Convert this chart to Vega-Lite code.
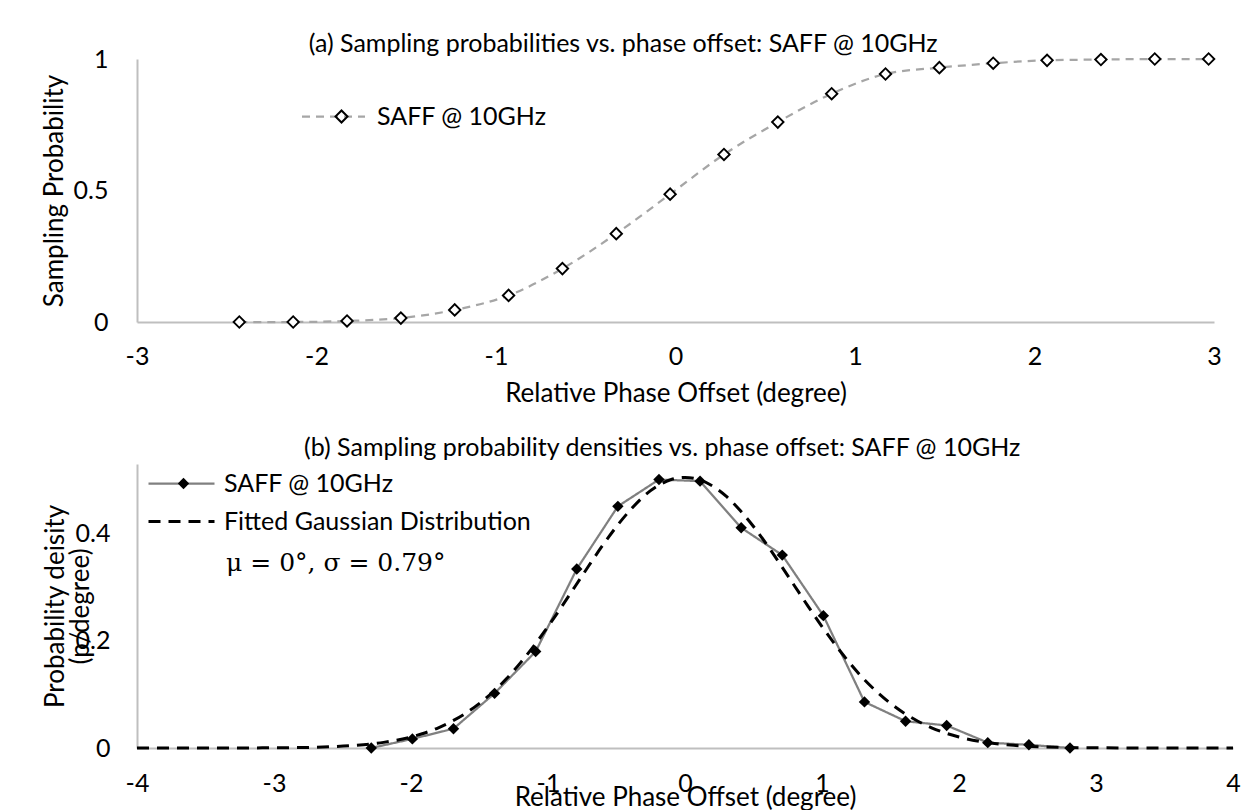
{
  "$schema": "https://vega.github.io/schema/vega-lite/v6.json",
  "background": "white",
  "padding": {"left": 41, "top": 32, "right": 5, "bottom": 0},
  "spacing": 30,
  "resolve": {
    "scale": {"color": "independent", "strokeDash": "independent", "strokeWidth": "independent", "shape": "independent"},
    "legend": {"color": "independent", "strokeDash": "independent", "strokeWidth": "independent", "shape": "independent"}
  },
  "datasets": {
    "prob": [
      {"offset": -2.43, "probability": 0, "series": "SAFF @ 10GHz"},
      {"offset": -2.13, "probability": 0, "series": "SAFF @ 10GHz"},
      {"offset": -1.83, "probability": 0.004, "series": "SAFF @ 10GHz"},
      {"offset": -1.53, "probability": 0.015, "series": "SAFF @ 10GHz"},
      {"offset": -1.23, "probability": 0.046, "series": "SAFF @ 10GHz"},
      {"offset": -0.93, "probability": 0.101, "series": "SAFF @ 10GHz"},
      {"offset": -0.63, "probability": 0.203, "series": "SAFF @ 10GHz"},
      {"offset": -0.33, "probability": 0.336, "series": "SAFF @ 10GHz"},
      {"offset": -0.03, "probability": 0.486, "series": "SAFF @ 10GHz"},
      {"offset": 0.27, "probability": 0.637, "series": "SAFF @ 10GHz"},
      {"offset": 0.57, "probability": 0.76, "series": "SAFF @ 10GHz"},
      {"offset": 0.87, "probability": 0.868, "series": "SAFF @ 10GHz"},
      {"offset": 1.17, "probability": 0.943, "series": "SAFF @ 10GHz"},
      {"offset": 1.47, "probability": 0.967, "series": "SAFF @ 10GHz"},
      {"offset": 1.77, "probability": 0.984, "series": "SAFF @ 10GHz"},
      {"offset": 2.07, "probability": 0.995, "series": "SAFF @ 10GHz"},
      {"offset": 2.37, "probability": 0.998, "series": "SAFF @ 10GHz"},
      {"offset": 2.67, "probability": 1.0, "series": "SAFF @ 10GHz"},
      {"offset": 2.97, "probability": 1.0, "series": "SAFF @ 10GHz"}
    ],
    "density": [
      {"offset": -2.29, "density": 0, "series": "SAFF @ 10GHz"},
      {"offset": -1.99, "density": 0.017, "series": "SAFF @ 10GHz"},
      {"offset": -1.69, "density": 0.036, "series": "SAFF @ 10GHz"},
      {"offset": -1.39, "density": 0.102, "series": "SAFF @ 10GHz"},
      {"offset": -1.09, "density": 0.18, "series": "SAFF @ 10GHz"},
      {"offset": -0.79, "density": 0.334, "series": "SAFF @ 10GHz"},
      {"offset": -0.49, "density": 0.451, "series": "SAFF @ 10GHz"},
      {"offset": -0.19, "density": 0.501, "series": "SAFF @ 10GHz"},
      {"offset": 0.11, "density": 0.498, "series": "SAFF @ 10GHz"},
      {"offset": 0.41, "density": 0.411, "series": "SAFF @ 10GHz"},
      {"offset": 0.71, "density": 0.36, "series": "SAFF @ 10GHz"},
      {"offset": 1.01, "density": 0.247, "series": "SAFF @ 10GHz"},
      {"offset": 1.31, "density": 0.086, "series": "SAFF @ 10GHz"},
      {"offset": 1.61, "density": 0.05, "series": "SAFF @ 10GHz"},
      {"offset": 1.91, "density": 0.042, "series": "SAFF @ 10GHz"},
      {"offset": 2.21, "density": 0.01, "series": "SAFF @ 10GHz"},
      {"offset": 2.51, "density": 0.006, "series": "SAFF @ 10GHz"},
      {"offset": 2.81, "density": 0, "series": "SAFF @ 10GHz"}
    ],
    "gauss": [
      {"offset": -4.0, "density": 0, "series": "Fitted Gaussian Distribution"},
      {"offset": -3.6, "density": 0, "series": "Fitted Gaussian Distribution"},
      {"offset": -3.2, "density": 0.0001, "series": "Fitted Gaussian Distribution"},
      {"offset": -3.0, "density": 0.0004, "series": "Fitted Gaussian Distribution"},
      {"offset": -2.8, "density": 0.0009, "series": "Fitted Gaussian Distribution"},
      {"offset": -2.6, "density": 0.0022, "series": "Fitted Gaussian Distribution"},
      {"offset": -2.4, "density": 0.005, "series": "Fitted Gaussian Distribution"},
      {"offset": -2.2, "density": 0.0105, "series": "Fitted Gaussian Distribution"},
      {"offset": -2.0, "density": 0.0205, "series": "Fitted Gaussian Distribution"},
      {"offset": -1.9, "density": 0.028, "series": "Fitted Gaussian Distribution"},
      {"offset": -1.8, "density": 0.0377, "series": "Fitted Gaussian Distribution"},
      {"offset": -1.7, "density": 0.05, "series": "Fitted Gaussian Distribution"},
      {"offset": -1.6, "density": 0.0649, "series": "Fitted Gaussian Distribution"},
      {"offset": -1.5, "density": 0.0833, "series": "Fitted Gaussian Distribution"},
      {"offset": -1.4, "density": 0.105, "series": "Fitted Gaussian Distribution"},
      {"offset": -1.3, "density": 0.13, "series": "Fitted Gaussian Distribution"},
      {"offset": -1.2, "density": 0.1593, "series": "Fitted Gaussian Distribution"},
      {"offset": -1.1, "density": 0.1916, "series": "Fitted Gaussian Distribution"},
      {"offset": -1.0, "density": 0.2266, "series": "Fitted Gaussian Distribution"},
      {"offset": -0.9, "density": 0.2639, "series": "Fitted Gaussian Distribution"},
      {"offset": -0.8, "density": 0.3024, "series": "Fitted Gaussian Distribution"},
      {"offset": -0.7, "density": 0.341, "series": "Fitted Gaussian Distribution"},
      {"offset": -0.6, "density": 0.3785, "series": "Fitted Gaussian Distribution"},
      {"offset": -0.5, "density": 0.4133, "series": "Fitted Gaussian Distribution"},
      {"offset": -0.4, "density": 0.444, "series": "Fitted Gaussian Distribution"},
      {"offset": -0.3, "density": 0.47, "series": "Fitted Gaussian Distribution"},
      {"offset": -0.2, "density": 0.489, "series": "Fitted Gaussian Distribution"},
      {"offset": -0.1, "density": 0.501, "series": "Fitted Gaussian Distribution"},
      {"offset": 0.0, "density": 0.505, "series": "Fitted Gaussian Distribution"},
      {"offset": 0.1, "density": 0.501, "series": "Fitted Gaussian Distribution"},
      {"offset": 0.2, "density": 0.489, "series": "Fitted Gaussian Distribution"},
      {"offset": 0.3, "density": 0.47, "series": "Fitted Gaussian Distribution"},
      {"offset": 0.4, "density": 0.444, "series": "Fitted Gaussian Distribution"},
      {"offset": 0.5, "density": 0.4133, "series": "Fitted Gaussian Distribution"},
      {"offset": 0.6, "density": 0.3785, "series": "Fitted Gaussian Distribution"},
      {"offset": 0.7, "density": 0.341, "series": "Fitted Gaussian Distribution"},
      {"offset": 0.8, "density": 0.3024, "series": "Fitted Gaussian Distribution"},
      {"offset": 0.9, "density": 0.2639, "series": "Fitted Gaussian Distribution"},
      {"offset": 1.0, "density": 0.2266, "series": "Fitted Gaussian Distribution"},
      {"offset": 1.1, "density": 0.1916, "series": "Fitted Gaussian Distribution"},
      {"offset": 1.2, "density": 0.1593, "series": "Fitted Gaussian Distribution"},
      {"offset": 1.3, "density": 0.13, "series": "Fitted Gaussian Distribution"},
      {"offset": 1.4, "density": 0.105, "series": "Fitted Gaussian Distribution"},
      {"offset": 1.5, "density": 0.0833, "series": "Fitted Gaussian Distribution"},
      {"offset": 1.6, "density": 0.0649, "series": "Fitted Gaussian Distribution"},
      {"offset": 1.7, "density": 0.05, "series": "Fitted Gaussian Distribution"},
      {"offset": 1.8, "density": 0.0377, "series": "Fitted Gaussian Distribution"},
      {"offset": 1.9, "density": 0.028, "series": "Fitted Gaussian Distribution"},
      {"offset": 2.0, "density": 0.0205, "series": "Fitted Gaussian Distribution"},
      {"offset": 2.2, "density": 0.0105, "series": "Fitted Gaussian Distribution"},
      {"offset": 2.4, "density": 0.005, "series": "Fitted Gaussian Distribution"},
      {"offset": 2.6, "density": 0.0022, "series": "Fitted Gaussian Distribution"},
      {"offset": 2.8, "density": 0.0009, "series": "Fitted Gaussian Distribution"},
      {"offset": 3.0, "density": 0.0004, "series": "Fitted Gaussian Distribution"},
      {"offset": 3.2, "density": 0.0001, "series": "Fitted Gaussian Distribution"},
      {"offset": 3.6, "density": 0, "series": "Fitted Gaussian Distribution"},
      {"offset": 4.0, "density": 0, "series": "Fitted Gaussian Distribution"}
    ],
    "note": [
      {"label": "μ = 0°, σ = 0.79°"}
    ]
  },
  "vconcat": [
    {
      "width": 1077,
      "height": 263,
      "title": {"text": "(a) Sampling probabilities vs. phase offset: SAFF @ 10GHz", "frame": "bounds", "anchor": "middle", "offset": -10, "dx": -8},
      "data": {"name": "prob"},
      "encoding": {
        "x": {"field": "offset", "type": "quantitative", "scale": {"domain": [-3, 3], "nice": false, "zero": false},
          "axis": {"title": "Relative Phase Offset (degree)", "values": [-3, -2, -1, 0, 1, 2, 3], "labelExpr": "datum.value", "labelPadding": 22, "titlePadding": 11}},
        "y": {"field": "probability", "type": "quantitative", "scale": {"domain": [0, 1], "nice": false},
          "axis": {"title": "Sampling Probability", "values": [0, 0.5, 1], "labelExpr": "datum.value", "labelPadding": 29, "titlePadding": 6}}
      },
      "layer": [
        {
          "mark": {"type": "line", "color": "#a6a6a6", "strokeWidth": 2.25, "interpolate": "monotone"},
          "encoding": {
            "strokeDash": {"field": "series", "type": "nominal", "scale": {"domain": ["SAFF @ 10GHz"], "range": [[8, 6]]},
              "legend": {"orient": "none", "legendX": 184, "legendY": 45, "title": null, "symbolType": "M-3,0L3,0", "symbolSize": 441, "symbolStrokeColor": "#a6a6a6", "symbolStrokeWidth": 2.25, "symbolDash": [8, 6], "labelOffset": 31}}
          }
        },
        {
          "mark": {"type": "point", "shape": "diamond", "filled": true, "color": "white", "size": 170, "opacity": 1}
        },
        {
          "mark": {"type": "point", "filled": true, "color": "black", "size": 200, "opacity": 1},
          "encoding": {
            "shape": {"field": "series", "type": "nominal", "scale": {"range": ["M0,-1L1,0L0,1L-1,0Z M0,-0.62L-0.62,0L0,0.62L0.62,0Z"]},
              "legend": {"orient": "none", "legendX": 192, "legendY": 45, "title": null, "symbolSize": 220, "symbolFillColor": "black", "symbolStrokeWidth": 0, "labelOpacity": 0}}
          }
        }
      ]
    },
    {
      "width": 1096,
      "height": 284,
      "title": {"text": "(b) Sampling probability densities vs. phase offset: SAFF @ 10GHz", "frame": "bounds", "anchor": "middle", "offset": 3, "dx": 21},
      "layer": [
        {
          "data": {"name": "density"},
          "mark": {"type": "line"},
          "encoding": {
            "x": {"field": "offset", "type": "quantitative", "scale": {"domain": [-4, 4], "nice": false, "zero": false},
              "axis": {"title": "Relative Phase Offset (degree)", "values": [-4, -3, -2, -1, 0, 1, 2, 3, 4], "labelExpr": "datum.value", "labelPadding": 23, "titlePadding": -12}},
            "y": {"field": "density", "type": "quantitative", "scale": {"domain": [0, 0.53], "nice": false},
              "axis": {"title": ["Probability deisity", "(p/degree)"], "values": [0, 0.2, 0.4], "labelExpr": "datum.value", "labelPadding": 27, "titlePadding": -18, "titleLineHeight": 25}},
            "color": {"field": "series", "type": "nominal", "scale": {"domain": ["SAFF @ 10GHz", "Fitted Gaussian Distribution"], "range": ["#808080", "#000000"]},
              "legend": {"orient": "none", "legendX": 32, "legendY": 7, "title": null, "symbolType": "M-3,0L3,0", "symbolSize": 484, "labelOffset": 30, "rowPadding": 12}},
            "strokeDash": {"field": "series", "type": "nominal", "scale": {"domain": ["SAFF @ 10GHz", "Fitted Gaussian Distribution"], "range": [[1, 0], [12, 8]]},
              "legend": {"orient": "none", "legendX": 32, "legendY": 7, "title": null, "symbolType": "M-3,0L3,0", "symbolSize": 484, "labelOffset": 30, "rowPadding": 12}},
            "strokeWidth": {"field": "series", "type": "nominal", "scale": {"domain": ["SAFF @ 10GHz", "Fitted Gaussian Distribution"], "range": [2.25, 3]},
              "legend": {"orient": "none", "legendX": 32, "legendY": 7, "title": null, "symbolType": "M-3,0L3,0", "symbolSize": 484, "labelOffset": 30, "rowPadding": 12}}
          }
        },
        {
          "data": {"name": "density"},
          "mark": {"type": "point", "filled": true, "color": "black", "size": 130, "opacity": 1},
          "encoding": {
            "x": {"field": "offset", "type": "quantitative"},
            "y": {"field": "density", "type": "quantitative"},
            "shape": {"field": "series", "type": "nominal", "scale": {"range": ["diamond"]},
              "legend": {"orient": "none", "legendX": 34, "legendY": 7, "title": null, "symbolSize": 130, "symbolFillColor": "black", "symbolStrokeWidth": 0, "labelOpacity": 0}}
          }
        },
        {
          "data": {"name": "gauss"},
          "mark": {"type": "line", "interpolate": "monotone"},
          "encoding": {
            "x": {"field": "offset", "type": "quantitative"},
            "y": {"field": "density", "type": "quantitative"},
            "color": {"field": "series", "type": "nominal"},
            "strokeDash": {"field": "series", "type": "nominal"},
            "strokeWidth": {"field": "series", "type": "nominal"}
          }
        },
        {
          "data": {"name": "note"},
          "mark": {"type": "text", "font": "DejaVu Serif", "fontSize": 25, "align": "left", "baseline": "middle", "fill": "black"},
          "encoding": {
            "x": {"datum": -3.35},
            "y": {"datum": 0.345},
            "text": {"field": "label"}
          }
        }
      ]
    }
  ],
  "config": {
    "font": "Lato",
    "view": {"stroke": null},
    "title": {"font": "Lato", "fontSize": 25, "fontWeight": "normal", "color": "black"},
    "axis": {
      "grid": false, "ticks": false, "domainColor": "#bfbfbf", "domainWidth": 2,
      "labelFlush": false, "labelOverlap": false, "labelBound": false,
      "labelFont": "Lato", "labelFontSize": 25, "labelColor": "black",
      "titleFont": "Lato", "titleFontSize": 26, "titleFontWeight": "normal", "titleColor": "black"
    },
    "legend": {"labelFont": "Lato", "labelFontSize": 25, "labelColor": "black", "labelLimit": 500}
  }
}
